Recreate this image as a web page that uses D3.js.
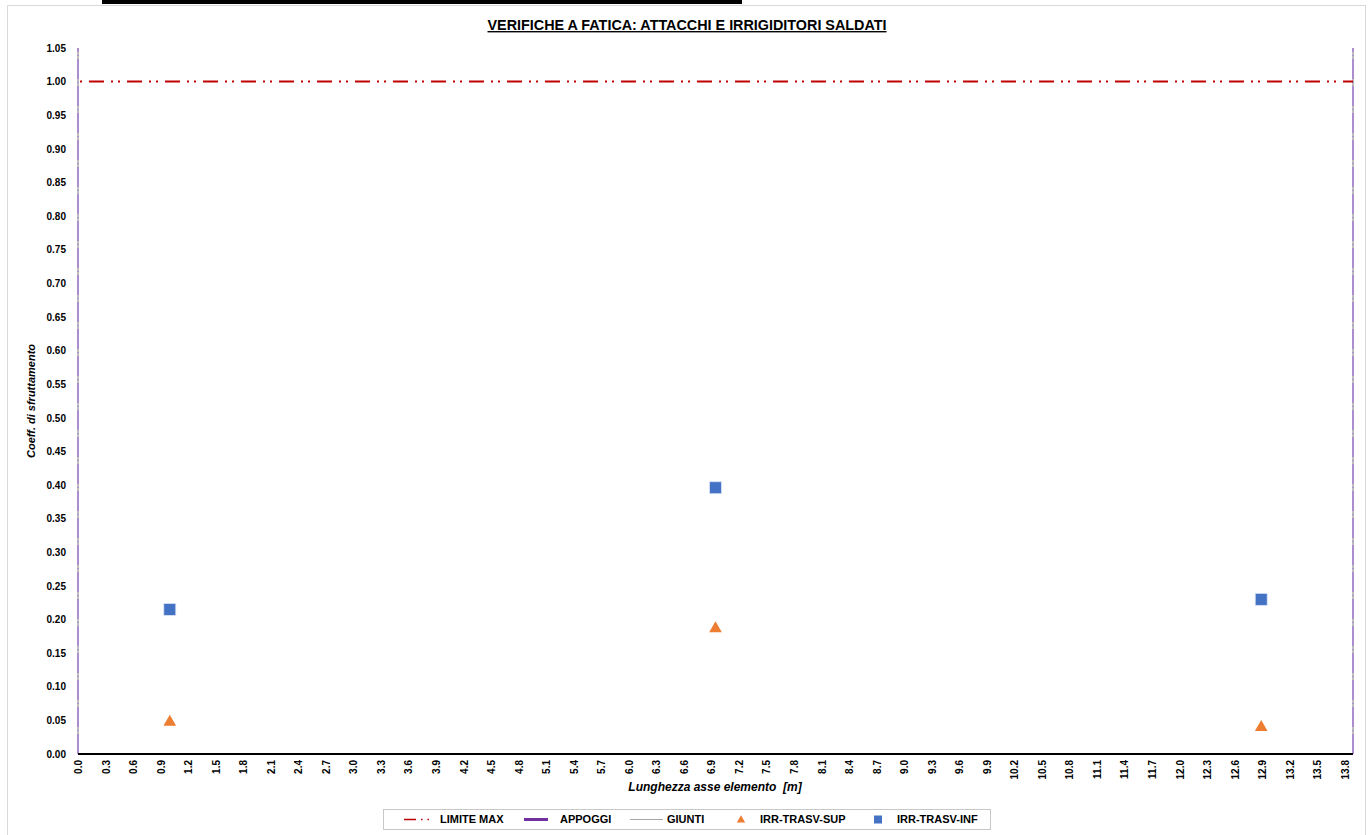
<!DOCTYPE html>
<html>
<head>
<meta charset="utf-8">
<script src="https://cdn.jsdelivr.net/npm/d3@7/dist/d3.min.js"></script>
<style>
  html, body { margin: 0; padding: 0; background: #ffffff; }
  svg { display: block; }
  text { font-family: "Liberation Sans", Arial, sans-serif; fill: #000; }
</style>
</head>
<body>
<svg id="chart" width="1370" height="835"></svg>
<script>
// Element length and limits
const elementLength = 13.89;
const yMax = 1.05;
const limitValue = 1.0;

// Supports (APPOGGI) and joints (GIUNTI) positions along the element axis
const supportPositions = [0, 13.89];
const jointPositions = [0, 13.89];

// Transverse stiffeners: positions and utilisation ratios
const stiffenerX = [1.0, 6.945, 12.89];
const irrTrasvSup = [0.049, 0.188, 0.041];
const irrTrasvInf = [0.215, 0.396, 0.230];

// Tick labels
const yTicks = [0.00, 0.05, 0.10, 0.15, 0.20, 0.25, 0.30, 0.35, 0.40, 0.45, 0.50,
                0.55, 0.60, 0.65, 0.70, 0.75, 0.80, 0.85, 0.90, 0.95, 1.00, 1.05];
const xTicks = [0.0, 0.3, 0.6, 0.9, 1.2, 1.5, 1.8, 2.1, 2.4, 2.7, 3.0, 3.3, 3.6, 3.9,
                4.2, 4.5, 4.8, 5.1, 5.4, 5.7, 6.0, 6.3, 6.6, 6.9, 7.2, 7.5, 7.8, 8.1,
                8.4, 8.7, 9.0, 9.3, 9.6, 9.9, 10.2, 10.5, 10.8, 11.1, 11.4, 11.7, 12.0,
                12.3, 12.6, 12.9, 13.2, 13.5, 13.8];

const legendItems = [
  { key: "LIMITE MAX", type: "limit" },
  { key: "APPOGGI", type: "support" },
  { key: "GIUNTI", type: "joint" },
  { key: "IRR-TRASV-SUP", type: "triangle" },
  { key: "IRR-TRASV-INF", type: "square" }
];

const colors = {
  limit: "#c00000",
  support: "#7030a0",
  supportInPlot: "#a67fd6",
  joint: "#a6a6a6",
  sup: "#ed7d31",
  inf: "#4472c4"
};

const svg = d3.select("#chart");

// Top bar and chart frame
svg.append("rect").attr("x", 102).attr("y", 0).attr("width", 640).attr("height", 4).attr("fill", "#000");
svg.append("rect").attr("x", 7.5).attr("y", 5.5).attr("width", 1358).attr("height", 840)
  .attr("fill", "#fff").attr("stroke", "#d9d9d9").attr("stroke-width", 1);

const plot = { left: 78, right: 1353, top: 48, bottom: 754 };

const x = d3.scaleLinear().domain([0, elementLength]).range([plot.left, plot.right]);
const y = d3.scaleLinear().domain([0, yMax]).range([plot.bottom, plot.top]);

// Title
svg.append("text")
  .attr("x", 687).attr("y", 30)
  .attr("text-anchor", "middle")
  .attr("font-size", 14).attr("font-weight", "bold")
  .attr("text-decoration", "underline")
  .attr("textLength", 399).attr("lengthAdjust", "spacingAndGlyphs")
  .text("VERIFICHE A FATICA: ATTACCHI E IRRIGIDITORI SALDATI");

// Y axis
const yAxis = d3.axisLeft(y).tickValues(yTicks).tickFormat(d3.format(".2f")).tickSize(0).tickPadding(12);
const gy = svg.append("g").attr("transform", `translate(${plot.left},0)`).call(yAxis);
gy.select(".domain").remove();
gy.selectAll("text").attr("font-size", 10).attr("font-weight", "bold")
  .style("font-family", "'Liberation Sans', Arial, sans-serif");

// X axis
const xAxis = d3.axisBottom(x).tickValues(xTicks).tickFormat(d3.format(".1f")).tickSize(0);
const gx = svg.append("g").attr("transform", `translate(0,${plot.bottom})`).call(xAxis);
gx.select(".domain").remove();
gx.selectAll("text")
  .attr("font-size", 10).attr("font-weight", "bold")
  .style("font-family", "'Liberation Sans', Arial, sans-serif")
  .attr("text-anchor", "end")
  .attr("transform", "rotate(-90)")
  .attr("x", -6).attr("y", 0).attr("dy", "0.35em");

// Axis titles
svg.append("text")
  .attr("transform", `translate(35,${(plot.top + plot.bottom) / 2}) rotate(-90)`)
  .attr("text-anchor", "middle")
  .attr("font-size", 11).attr("font-weight", "bold").attr("font-style", "italic")
  .text("Coeff. di sfruttamento");

svg.append("text")
  .attr("x", 715).attr("y", 791)
  .attr("text-anchor", "middle")
  .attr("font-size", 12).attr("font-weight", "bold").attr("font-style", "italic")
  .style("white-space", "pre")
  .text("Lunghezza asse elemento  [m]");

// Joints: thin grey verticals
svg.append("g").selectAll("line").data(jointPositions).join("line")
  .attr("x1", d => x(d)).attr("x2", d => x(d))
  .attr("y1", y(0)).attr("y2", y(yMax))
  .attr("stroke", colors.joint).attr("stroke-width", 1.5);

// Supports: dashed purple verticals
svg.append("g").selectAll("line").data(supportPositions).join("line")
  .attr("x1", d => x(d)).attr("x2", d => x(d))
  .attr("y1", y(0)).attr("y2", y(yMax))
  .attr("stroke", colors.supportInPlot).attr("stroke-width", 1.5)
  .attr("stroke-dasharray", "20,3,1,3");

// X axis baseline
svg.append("line")
  .attr("x1", plot.left).attr("x2", plot.right)
  .attr("y1", y(0)).attr("y2", y(0))
  .attr("stroke", "#000").attr("stroke-width", 2);

// Limit line
svg.append("line")
  .attr("x1", x(0) + 2).attr("x2", x(elementLength))
  .attr("y1", y(limitValue)).attr("y2", y(limitValue))
  .attr("stroke", colors.limit).attr("stroke-width", 2)
  .attr("stroke-dasharray", "2,7,15,7,2,5");

// Markers
const triangle = d3.symbol().type(d3.symbolTriangle).size(70);
svg.append("g").selectAll("path").data(stiffenerX.map((d, i) => [d, irrTrasvSup[i]])).join("path")
  .attr("d", triangle)
  .attr("transform", d => `translate(${x(d[0])},${y(d[1]) + 1})`)
  .attr("fill", colors.sup);

svg.append("g").selectAll("rect").data(stiffenerX.map((d, i) => [d, irrTrasvInf[i]])).join("rect")
  .attr("x", d => x(d[0]) - 6).attr("y", d => y(d[1]) - 6)
  .attr("width", 12).attr("height", 12)
  .attr("fill", colors.inf).attr("stroke", "#dbe4f5").attr("stroke-width", 0.8);

// Legend
const legend = svg.append("g");
legend.append("rect").attr("x", 383.5).attr("y", 809.5).attr("width", 607).attr("height", 20)
  .attr("fill", "#fff").attr("stroke", "#c8c8c8");
const ly = 819.5;
const legendLayout = [
  { sx: 404, sw: 28, tx: 440 },
  { sx: 524, sw: 24, tx: 560 },
  { sx: 630, sw: 33, tx: 667 },
  { sx: 741, sw: 0, tx: 760 },
  { sx: 878, sw: 0, tx: 897 }
];
legendItems.forEach((item, i) => {
  const L = legendLayout[i];
  if (item.type === "limit") {
    legend.append("line").attr("x1", L.sx).attr("x2", L.sx + L.sw).attr("y1", ly).attr("y2", ly)
      .attr("stroke", colors.limit).attr("stroke-width", 1.5).attr("stroke-dasharray", "12,5,1.5,5,1.5,20");
  } else if (item.type === "support") {
    legend.append("line").attr("x1", L.sx).attr("x2", L.sx + L.sw).attr("y1", ly).attr("y2", ly)
      .attr("stroke", colors.support).attr("stroke-width", 3);
  } else if (item.type === "joint") {
    legend.append("line").attr("x1", L.sx).attr("x2", L.sx + L.sw).attr("y1", ly).attr("y2", ly)
      .attr("stroke", colors.joint).attr("stroke-width", 1);
  } else if (item.type === "triangle") {
    legend.append("path").attr("d", d3.symbol().type(d3.symbolTriangle).size(30))
      .attr("transform", `translate(${L.sx},${ly + 0.5})`).attr("fill", colors.sup);
  } else {
    legend.append("rect").attr("x", L.sx - 4).attr("y", ly - 4).attr("width", 8).attr("height", 8)
      .attr("fill", colors.inf);
  }
  legend.append("text").attr("x", L.tx).attr("y", ly).attr("dy", "0.35em")
    .attr("font-size", 11).attr("font-weight", "bold").text(item.key);
});
</script>
</body>
</html>
